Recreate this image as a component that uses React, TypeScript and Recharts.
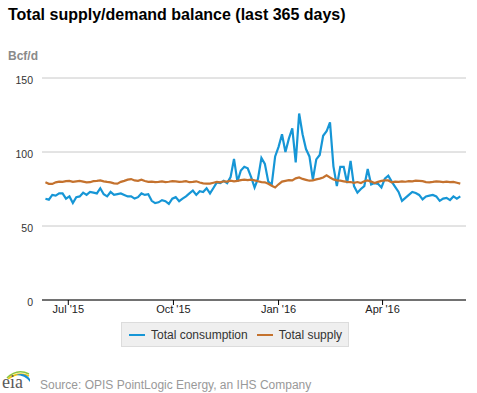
import { LineChart, Line, XAxis, YAxis, CartesianGrid } from "recharts";

// daily series sampled every 3 days, starting 11 Jun 2015
const startDate = Date.UTC(2015, 5, 11);
const stepDays = 3;
const DAY = 86400000;

const consumption = [
  68.4, 67.8, 71, 70.5, 72, 72, 68.5, 70, 65.5, 69.5,
  70, 72.5, 71, 73, 72.5, 72, 75.5, 71.5, 70, 73,
  71, 71.5, 72, 71, 70, 70, 68.5, 69.5, 72, 71,
  71.5, 67, 65.5, 66, 67.5, 66.8, 65, 68.5, 69.5, 66.8,
  68.5, 70, 72, 74, 71, 73.5, 73, 75.5, 72, 75.7,
  79.5, 79, 80.5, 79, 83, 95.3, 80, 87.5, 90, 89,
  83, 76, 82, 96, 92, 80, 78, 97, 103.5, 112,
  100, 109, 116, 93, 126, 112, 102, 97, 81.3, 95,
  98, 111, 114, 120, 90.3, 77, 90, 90, 79, 94,
  77, 72.5, 75, 77, 88.5, 78, 79, 78.5, 76, 82,
  84, 80, 76.5, 73, 67, 69, 71, 73, 72.3, 71,
  68, 70, 70.5, 71, 70, 67, 68.5, 69, 67.5, 70,
  68.5, 70,
];

const supply = [
  79.5, 78.5, 78.4, 79.5, 80, 79.8, 80.3, 80.5, 79.8, 80.2,
  80.5, 80, 79.5, 79.6, 80.3, 80.5, 80.8, 80.2, 79.8, 79.5,
  78.8, 78.6, 79.8, 80.5, 81.3, 81.7, 80.8, 80.5, 81.3, 80.4,
  79.8, 80, 79.6, 79.8, 80.2, 79.7, 79.9, 80.3, 80.2, 79.8,
  80, 80.3, 79.6, 79.8, 80.2, 79.4, 78.8, 78.6, 78.6, 79.2,
  79.8, 79.5, 80.2, 80, 80.6, 80.2, 80.5, 81, 81.3, 81,
  81.3, 80.8, 80.2, 79.7, 79.5, 78.5, 77.2, 76, 78.2, 80,
  80.5, 81, 80.8, 82.2, 82.8, 81.8, 81.2, 80.6, 80.8, 81.5,
  82, 82.8, 84.2, 82.8, 81.5, 80.8, 80.6, 80.2, 79.8, 79.7,
  79.2, 79.7, 79, 80.2, 80.8, 80, 79, 79.8, 80.5, 80.8,
  80.8, 79.5, 80, 79.8, 80.2, 79.9, 80.3, 80.2, 80.6, 80.5,
  80.3, 79.7, 79.5, 79.8, 80.2, 80, 79.6, 80, 79.7, 79.8,
  79.2, 78.6,
];

const tickDates = [
  Date.UTC(2015, 6, 1),
  Date.UTC(2015, 9, 1),
  Date.UTC(2016, 0, 1),
  Date.UTC(2016, 3, 1),
];
const tickLabels = ["Jul '15", "Oct '15", "Jan '16", "Apr '16"];
const yTicks = [0, 50, 100, 150];

const series = [
  { key: "consumption", name: "Total consumption", color: "#1696d6" },
  { key: "supply", name: "Total supply", color: "#c4722e" },
];

const data = consumption.map((v, i) => ({
  date: startDate + i * stepDays * DAY,
  consumption: v,
  supply: supply[i],
}));

const FONT = '"Liberation Sans", Arial, sans-serif';

function EiaLogo() {
  return (
    <svg
      width={32}
      height={26}
      overflow="visible"
      style={{ position: "absolute", left: 1, top: 366, overflow: "visible" }}
    >
      <path d="M6 12 Q16 2 28 8" stroke="#8cc63f" strokeWidth={1.6} fill="none" />
      <path d="M7 13 Q17 5 28 10" stroke="#f2c511" strokeWidth={1.6} fill="none" />
      <path d="M15 9 Q24 6 29 13 L29 16 Q24 9 15 9 Z" fill="#1a8fd2" />
      <text x={1} y={22} fontFamily='"Liberation Serif", "DejaVu Serif", serif' fontSize={18} fill="#5a5a5a">
        eia
      </text>
    </svg>
  );
}

export default function App() {
  return (
    <div
      style={{
        position: "absolute",
        left: 0,
        top: 0,
        width: 477,
        height: 393,
        background: "#fff",
        fontFamily: FONT,
        overflow: "hidden",
      }}
    >
      <div
        style={{
          position: "absolute",
          left: 8,
          top: 6,
          fontSize: 16,
          fontWeight: "bold",
          color: "#000",
          whiteSpace: "nowrap",
        }}
      >
        Total supply/demand balance (last 365 days)
      </div>
      <div
        style={{
          position: "absolute",
          left: 8,
          top: 49,
          fontSize: 12,
          fontWeight: "bold",
          color: "#8a8a8a",
        }}
      >
        Bcf/d
      </div>

      <div style={{ position: "absolute", left: 0, top: 0 }}>
        <LineChart
          width={477}
          height={330}
          data={data}
          margin={{ top: 78, right: 11, bottom: 0, left: 12 }}
        >
          <CartesianGrid horizontal vertical={false} stroke="#c8c8c8" />
          <XAxis
            dataKey="date"
            type="number"
            scale="time"
            domain={[Date.UTC(2015, 5, 8), Date.UTC(2016, 5, 13)]}
            ticks={tickDates}
            tickFormatter={(v: number) => tickLabels[tickDates.indexOf(v)]}
            height={30}
            stroke="#000"
            tickSize={5}
            tickMargin={0}
            tick={{ fill: "#222", fontSize: 11, fontFamily: FONT }}
          />
          <YAxis
            domain={[0, 150]}
            ticks={yTicks}
            width={30}
            axisLine={false}
            tickLine={false}
            tickSize={0}
            tickMargin={9}
            tick={{ fill: "#333", fontSize: 10.5, fontFamily: FONT, dy: 2 }}
          />
          {series.map((s) => (
            <Line
              key={s.key}
              type="linear"
              dataKey={s.key}
              name={s.name}
              stroke={s.color}
              strokeWidth={2.2}
              dot={false}
              isAnimationActive={false}
            />
          ))}
        </LineChart>
      </div>

      <div
        style={{
          position: "absolute",
          left: 121,
          top: 322,
          width: 226,
          height: 23,
          background: "#efefef",
          border: "1px solid #dcdcdc",
          display: "flex",
          alignItems: "center",
          fontSize: 12,
          color: "#333",
        }}
      >
        {series.map((s, i) => (
          <div
            key={s.key}
            style={{ display: "flex", alignItems: "center", marginLeft: i === 0 ? 7 : 9 }}
          >
            <span
              style={{ display: "inline-block", width: 16, height: 2, background: s.color, marginRight: 6 }}
            />
            <span>{s.name}</span>
          </div>
        ))}
      </div>

      <EiaLogo />
      <div
        style={{
          position: "absolute",
          left: 40,
          top: 378,
          fontSize: 12,
          color: "#999",
          whiteSpace: "nowrap",
        }}
      >
        Source: OPIS PointLogic Energy, an IHS Company
      </div>
    </div>
  );
}
